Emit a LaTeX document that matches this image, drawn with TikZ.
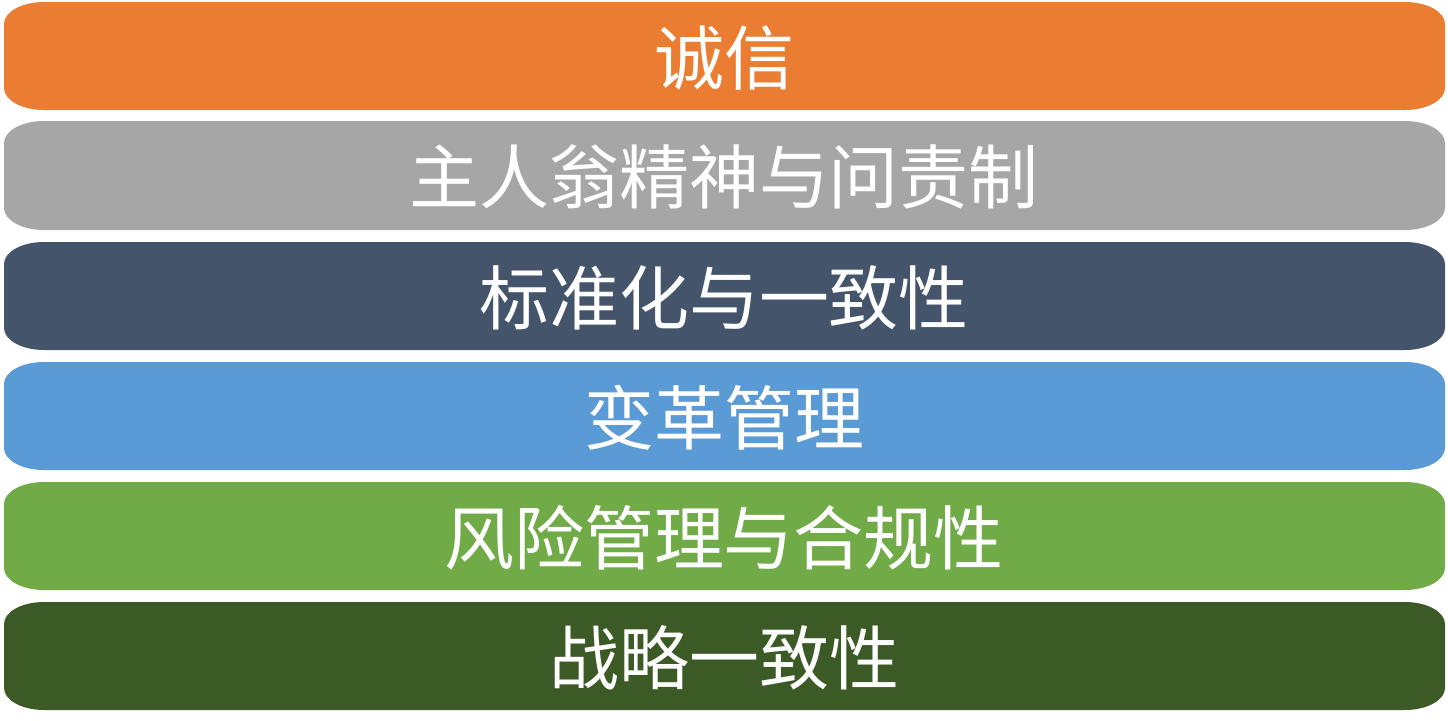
\documentclass[tikz,border=0pt]{standalone}
\usepackage{fontspec}
\setmainfont{Noto Sans CJK SC}
\begin{document}
\begin{tikzpicture}[x=0.5pt,y=0.5pt,
  lbl/.style={text=white,font=\fontsize{35}{40}\selectfont,inner sep=0pt,anchor=center}]
\definecolor{cOrange}{HTML}{EB7D32}
\definecolor{cGray}{HTML}{A6A6A6}
\definecolor{cNavy}{HTML}{44546A}
\definecolor{cBlue}{HTML}{5B9BD5}
\definecolor{cGreen}{HTML}{70AB47}
\definecolor{cDark}{HTML}{3C5A25}
\useasboundingbox[fill=white] (0,0) rectangle (1448,720);
\newcommand{\barshape}[3]{% color, ytop, ybottom (pixels from top)
  \pgfmathsetmacro{\bT}{720-#2}
  \pgfmathsetmacro{\bB}{720-#3}
  \pgfmathsetmacro{\bTi}{720-#2-22}
  \pgfmathsetmacro{\bBi}{720-#3+22}
  \fill[#1] (44,\bT) -- (1405,\bT)
    arc[start angle=90,end angle=0,x radius=40,y radius=22]
    -- (1445,\bBi)
    arc[start angle=0,end angle=-90,x radius=40,y radius=22]
    -- (44,\bB)
    arc[start angle=270,end angle=180,x radius=40,y radius=22]
    -- (4,\bTi)
    arc[start angle=180,end angle=90,x radius=40,y radius=22] -- cycle;}
\barshape{cOrange}{2}{110}
\barshape{cGray}{121}{230}
\barshape{cNavy}{242}{350}
\barshape{cBlue}{362}{470}
\barshape{cGreen}{482}{590}
\barshape{cDark}{602}{710}
\node[lbl] (t1) at (724,720-58) {诚信};
\node[lbl] (t2) at (724,720-177) {主人翁精神与问责制};
\node[lbl] (t3) at (724,720-298) {标准化与一致性};
\node[lbl] (t4) at (724,720-418) {变革管理};
\node[lbl] (t5) at (724,720-538) {风险管理与合规性};
\node[lbl] (t6) at (724,720-658) {战略一致性};
\end{tikzpicture}
\end{document}
